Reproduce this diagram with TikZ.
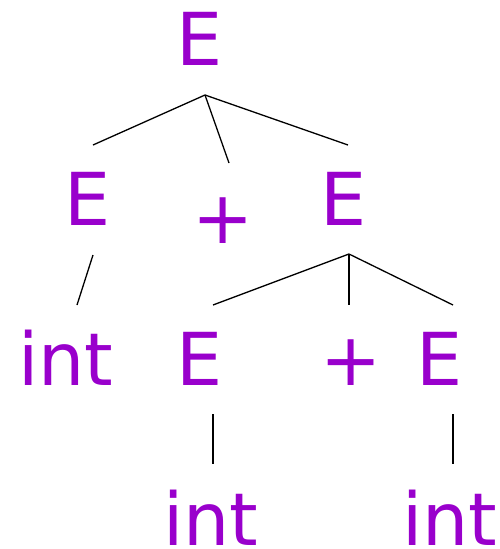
\documentclass[tikz,border=0pt]{standalone}
\usepackage{fontspec}
\setmainfont{DejaVu Sans}
\definecolor{sym}{HTML}{9900CC}
\begin{document}
\begin{tikzpicture}[x=1pt,y=-1pt,
  sym/.style={anchor=base,inner sep=0pt,text depth=0pt,text=sym,font=\fontsize{73}{73}\selectfont},
  edge/.style={draw=black,line width=1.3pt}]
\useasboundingbox (0,0) rectangle (500,549);
\node[sym] (top) at (200,65) {E};
\node[sym] (e1) at (88,225) {E};
\node[sym] (p1) at (223,243) {+};
\node[sym] (e2) at (344,225) {E};
\node[sym] (i1) at (66,385) {int};
\node[sym] (e3) at (200,385) {E};
\node[sym] (p2) at (351,385) {+};
\node[sym] (e4) at (440,385) {E};
\node[sym] (i2) at (211,545) {int};
\node[sym] (i3) at (450,545) {int};
\draw[edge] ([shift={(5,30)}]top.base) -- ([shift={(5,-80)}]e1.base);
\draw[edge] ([shift={(5,30)}]top.base) -- ([shift={(6,-80)}]p1.base);
\draw[edge] ([shift={(5,30)}]top.base) -- ([shift={(4,-80)}]e2.base);
\draw[edge] ([shift={(5,30)}]e1.base) -- ([shift={(11,-80)}]i1.base);
\draw[edge] ([shift={(5,29)}]e2.base) -- ([shift={(13,-80)}]e3.base);
\draw[edge] ([shift={(5,29)}]e2.base) -- ([shift={(-2,-80)}]p2.base);
\draw[edge] ([shift={(5,29)}]e2.base) -- ([shift={(13,-80)}]e4.base);
\draw[edge] ([shift={(13,29)}]e3.base) -- ([shift={(2,-81)}]i2.base);
\draw[edge] ([shift={(13,29)}]e4.base) -- ([shift={(3,-81)}]i3.base);
\end{tikzpicture}
\end{document}
